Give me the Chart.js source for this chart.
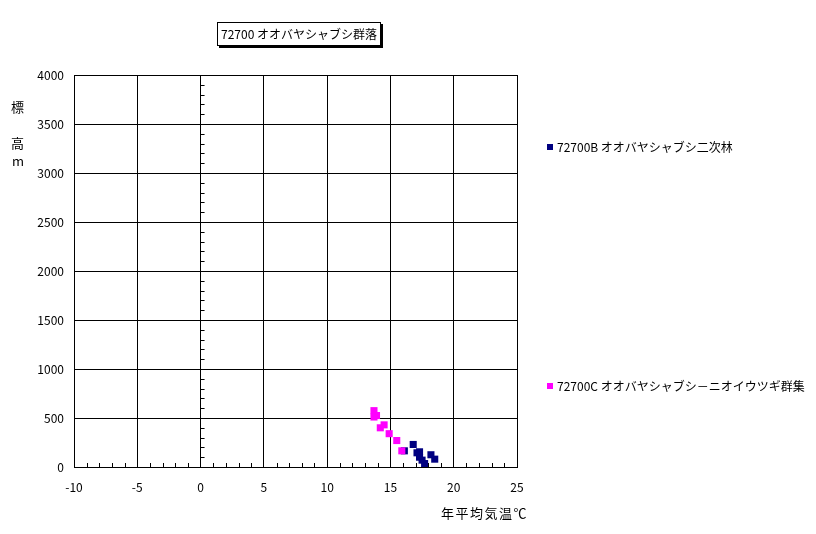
<!DOCTYPE html>
<html>
<head>
<meta charset="utf-8">
<script src="https://cdn.jsdelivr.net/npm/chart.js@4"></script>
<style>
    body { margin: 0; background: #fff; }
    #wrap { position: relative; width: 816px; height: 534px; font-family: "Noto Sans CJK JP", sans-serif; font-size: 12px; color: #000; }
    #grafico { position: absolute; left: 0; top: 0; }
    .txt { position: absolute; white-space: nowrap; line-height: 14px; }
    #titulo { left: 217px; top: 22px; width: 162px; height: 22px; border: 1px solid #000; box-shadow: 2px 2px 0 #000; text-align: center; line-height: 22px; background: #fff; }
    .leg { position: absolute; white-space: nowrap; line-height: 14px; padding-left: 10px; }
    .leg span { position: absolute; left: 0; top: 4px; width: 6px; height: 6px; }
</style>
</head>
<body>
<div id="wrap">
    <canvas id="grafico" width="816" height="534"></canvas>
    <div class="txt" id="titulo">72700 オオバヤシャブシ群落</div>
    <div class="txt" style="left:11px;top:100px;font-size:13px;">標</div>
    <div class="txt" style="left:11px;top:136px;font-size:13px;">高</div>
    <div class="txt" style="left:12px;top:154px;font-size:13px;">m</div>
    <div class="txt" style="left:441px;top:506px;font-size:13px;letter-spacing:1.5px;">年平均気温℃</div>
    <div class="leg" style="left:547px;top:140px;"><span style="background:#000080"></span>72700B オオバヤシャブシ二次林</div>
    <div class="leg" style="left:547px;top:379px;"><span style="background:#FF00FF"></span>72700C オオバヤシャブシ－ニオイウツギ群集</div>
</div>
<script>
// dados
const nomesSeries = ['72700B オオバヤシャブシ二次林', '72700C オオバヤシャブシ－ニオイウツギ群集']
const coresSeries = ['#000080', '#FF00FF']

// 72700B
const tempB = [16.8, 16.1, 17.1, 17.3, 17.3, 17.5, 17.7, 18.2, 18.5]
const altB = [230, 165, 145, 155, 100, 70, 35, 125, 80]

// 72700C
const tempC = [13.7, 13.9, 13.7, 14.5, 14.2, 14.9, 15.5, 15.9]
const altC = [575, 525, 510, 430, 400, 340, 270, 165]

const ticksX = [-10, -5, 0, 5, 10, 15, 20, 25]
const ticksY = [0, 500, 1000, 1500, 2000, 2500, 3000, 3500, 4000]

function pontos(xs, ys) {
    return xs.map((x, i) => ({ x: x, y: ys[i] }))
}

//? tracinhos menores nos eixos
const tracosMenores = {
    id: 'tracosMenores',
    afterDraw(chart) {
        const ctx = chart.ctx
        const sx = chart.scales.x
        const sy = chart.scales.y
        const base = sy.getPixelForValue(0)
        const x0 = sx.getPixelForValue(0)
        ctx.save()
        ctx.strokeStyle = '#000'
        ctx.lineWidth = 1
        ctx.beginPath()
        for (let v = -10; v <= 25; v++) {
            if (v % 5 == 0) continue
            const px = Math.round(sx.getPixelForValue(v)) + 0.5
            ctx.moveTo(px, base)
            ctx.lineTo(px, base - 4)
        }
        for (let v = 0; v <= 4000; v += 100) {
            if (v % 500 == 0) continue
            const py = Math.round(sy.getPixelForValue(v)) + 0.5
            ctx.moveTo(x0, py)
            ctx.lineTo(x0 + 4, py)
        }
        ctx.stroke()
        ctx.restore()
    }
}

const ctx = document.getElementById('grafico').getContext('2d')
const grafico = new Chart(ctx, {
    type: 'scatter',
    data: {
        datasets: [{
            label: nomesSeries[0],
            data: pontos(tempB, altB),
            backgroundColor: coresSeries[0],
            borderWidth: 0,
            pointStyle: 'rect',
            pointRadius: 5,
            order: 2
        }, {
            label: nomesSeries[1],
            data: pontos(tempC, altC),
            backgroundColor: coresSeries[1],
            borderWidth: 0,
            pointStyle: 'rect',
            pointRadius: 5,
            order: 1
        }]
    },
    options: {
        responsive: false,
        animation: false,
        layout: { padding: { left: 0, top: 75, right: 299, bottom: 0 } },
        plugins: {
            legend: { display: false },
            tooltip: { enabled: false }
        },
        scales: {
            x: {
                type: 'linear',
                min: -10,
                max: 25,
                afterBuildTicks: (s) => { s.ticks = ticksX.map(v => ({ value: v })) },
                afterFit: (s) => { s.height = 67 },
                grid: { color: '#000', lineWidth: 1, drawTicks: false },
                border: { display: true, color: '#000', width: 1 },
                ticks: {
                    color: '#000',
                    padding: 13,
                    font: { family: 'Noto Sans CJK JP', size: 12 },
                    maxRotation: 0,
                    callback: (v) => String(v)
                }
            },
            y: {
                type: 'linear',
                min: 0,
                max: 4000,
                afterBuildTicks: (s) => { s.ticks = ticksY.map(v => ({ value: v })) },
                afterFit: (s) => { s.width = 74 },
                grid: { color: '#000', lineWidth: 1, drawTicks: false },
                border: { display: true, color: '#000', width: 1 },
                ticks: {
                    color: '#000',
                    padding: 10,
                    font: { family: 'Noto Sans CJK JP', size: 12 },
                    callback: (v) => String(v)
                }
            }
        }
    },
    plugins: [tracosMenores]
})
</script>
</body>
</html>
